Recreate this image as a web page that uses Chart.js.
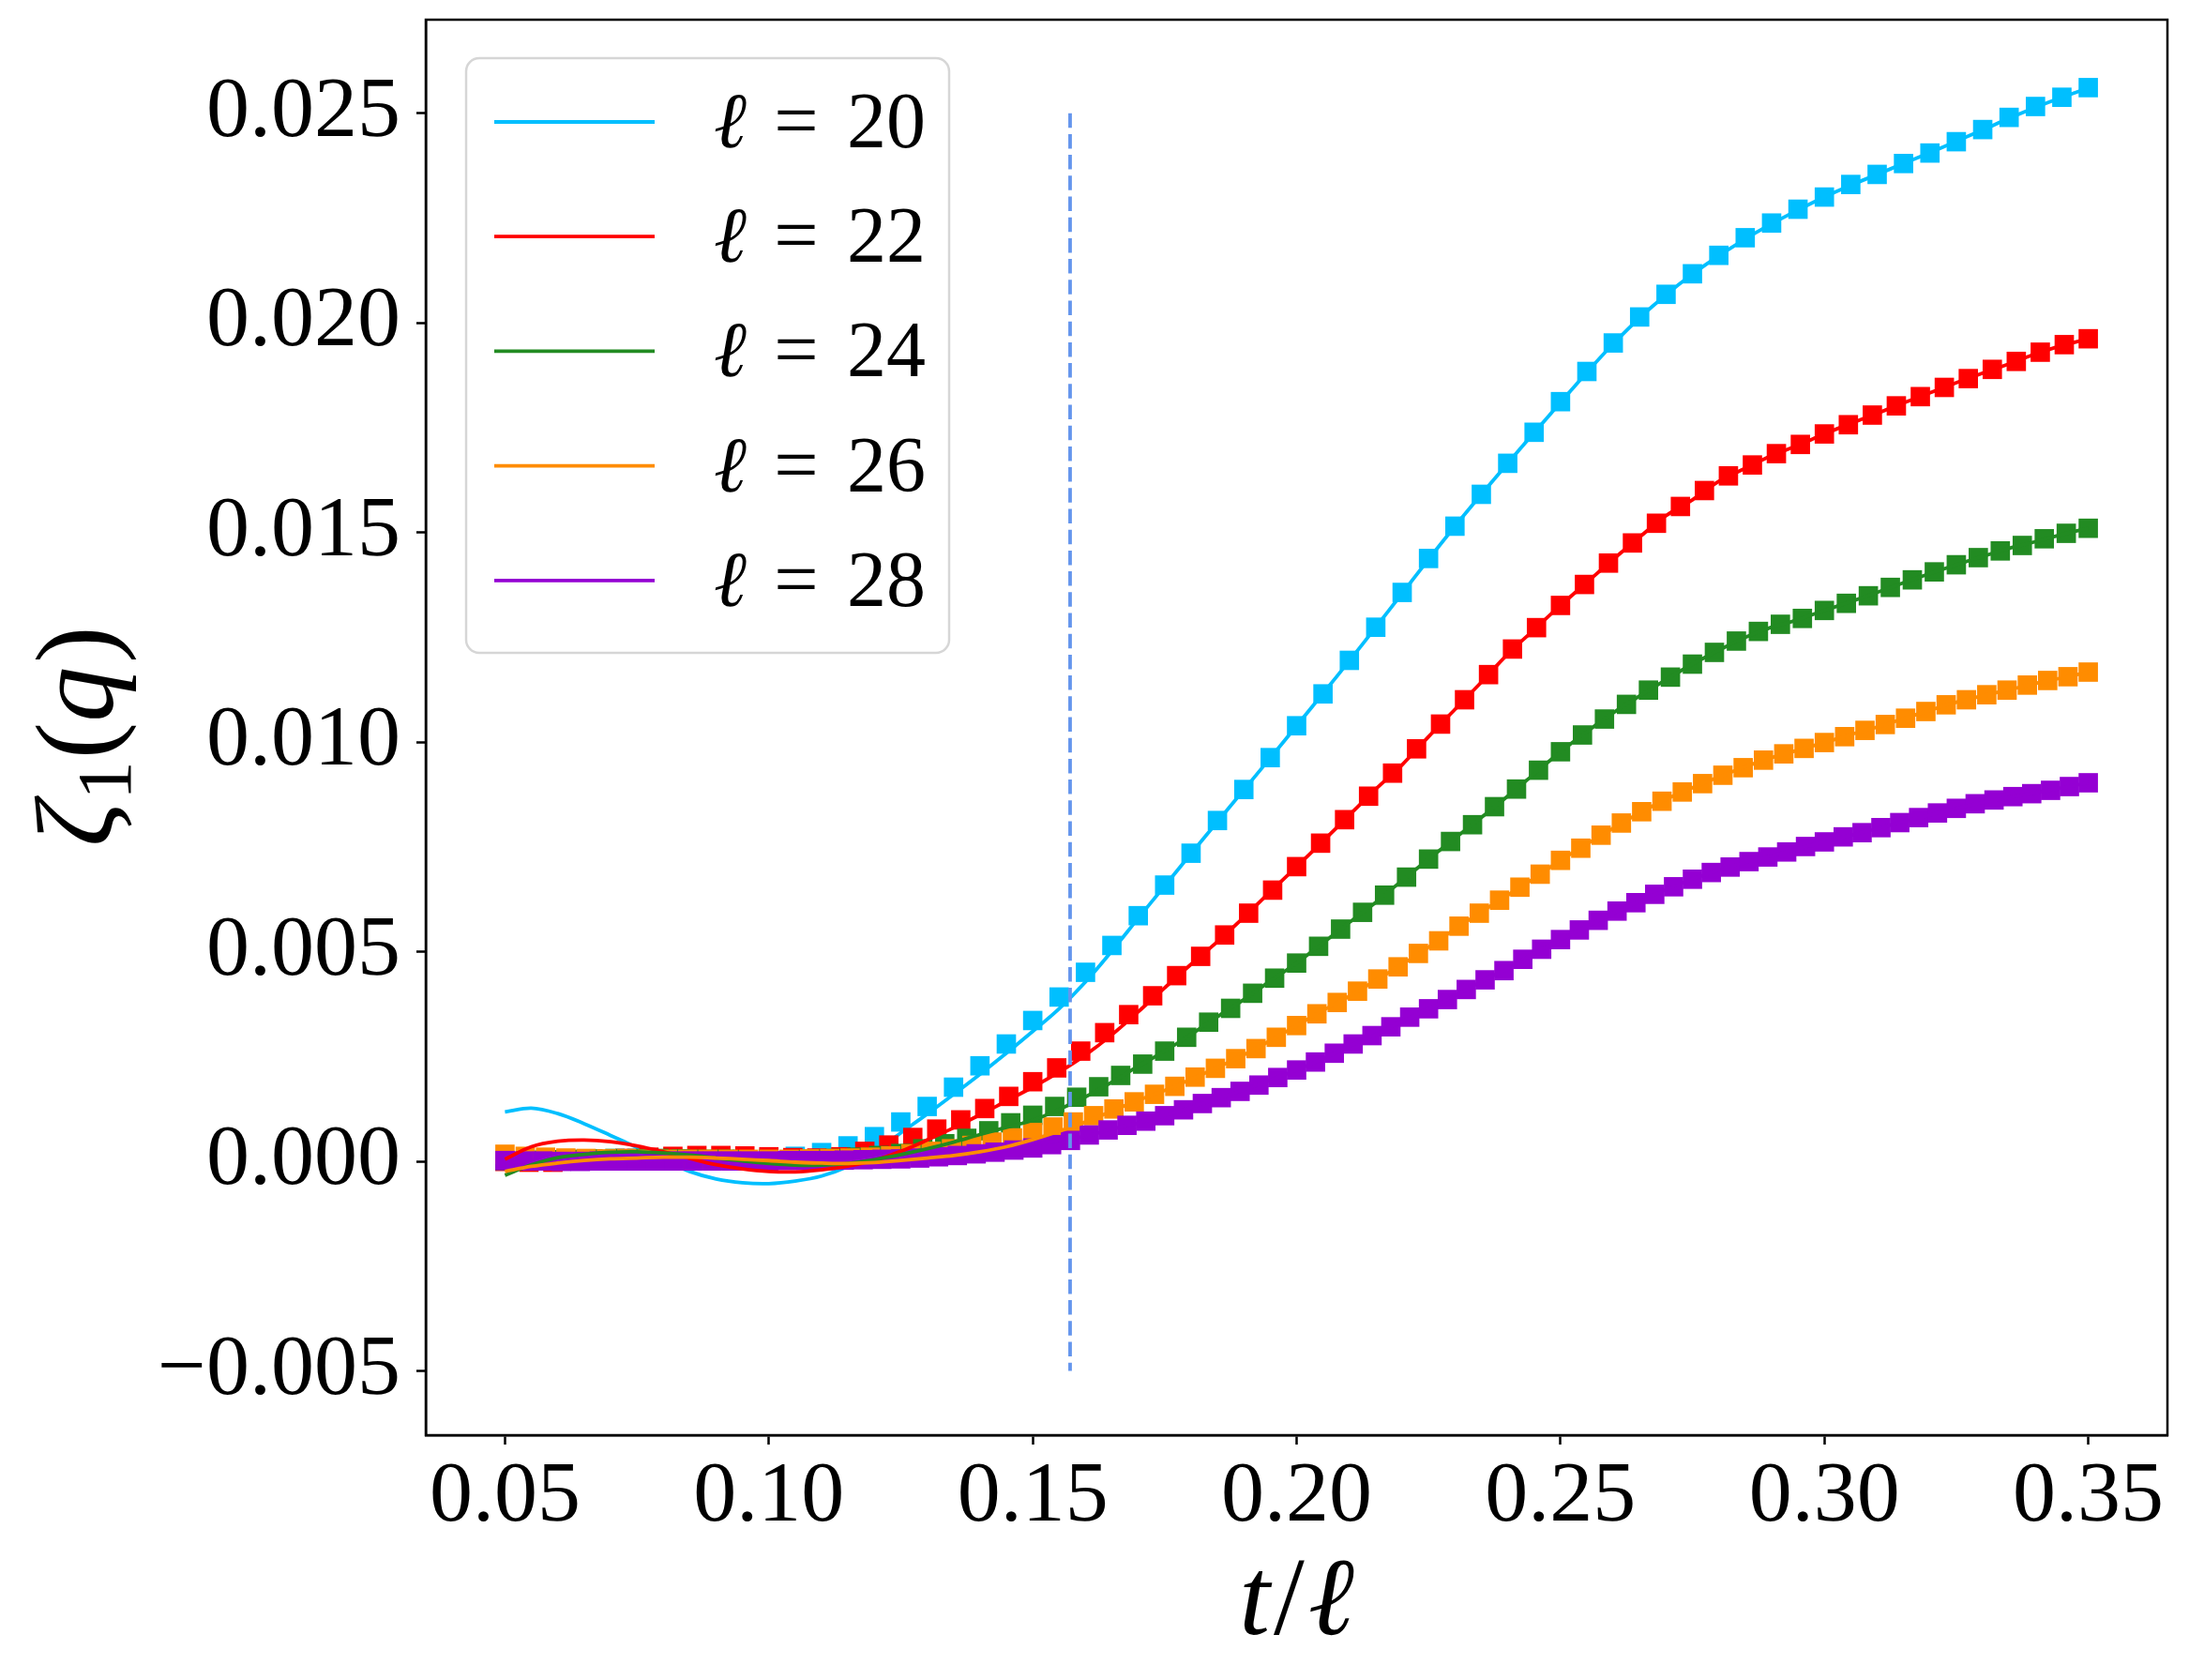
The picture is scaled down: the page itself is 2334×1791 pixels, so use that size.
<!DOCTYPE html>
<html>
<head>
<meta charset="utf-8">
<script src="https://cdn.jsdelivr.net/npm/chart.js@4.4.1/dist/chart.umd.min.js"></script>
<style>
html,body{margin:0;padding:0;background:#fff;}
canvas{display:block;}
</style>
</head>
<body>
<canvas id="c" width="2334" height="1791"></canvas>
<script>
// ---------------- data ----------------
const ells = [20, 22, 24, 26, 28];
const seriesLabels = ['\u2113 = 20', '\u2113 = 22', '\u2113 = 24', '\u2113 = 26', '\u2113 = 28'];
const xTicks = [0.05, 0.10, 0.15, 0.20, 0.25, 0.30, 0.35];
const yTicks = [-0.005, 0.000, 0.005, 0.010, 0.015, 0.020, 0.025];
const vLineX = 0.15708;          // dashed marker position (t/l)
const vLineY = [0.025, -0.005];

// markers: samples at t = 0.05*l, 0.05*l+0.1, ... ; plotted at t/l
const zeta20 = [0.00002,0.00001,0.00002,0.00002,0.00003,0.00003,0.00003,0.00004,0.00004,0.00005,
 0.00007,0.00012,0.00021,0.00037,0.00059,0.00094,0.00131,0.00177,0.00228,0.00280,
 0.00336,0.00392,0.00451,0.00515,0.00586,0.00659,0.00735,0.00813,0.00887,0.00963,
 0.01039,0.01115,0.01195,0.01274,0.01357,0.01438,0.01515,0.01591,0.01665,0.01739,
 0.01812,0.01884,0.01952,0.02014,0.02068,0.02117,0.02161,0.02203,0.02238,0.02271,
 0.02300,0.02330,0.02354,0.02380,0.02405,0.02432,0.02461,0.02490,0.02516,0.02538,
 0.02561];
const zeta22 = [0.00000,-0.00002,-0.00002,0.00001,0.00004,0.00007,0.00010,0.00012,0.00014,0.00014,
 0.00013,0.00011,0.00009,0.00008,0.00011,0.00024,0.00039,0.00057,0.00077,0.00099,
 0.00126,0.00155,0.00190,0.00223,0.00263,0.00307,0.00350,0.00395,0.00443,0.00489,
 0.00540,0.00592,0.00647,0.00703,0.00759,0.00815,0.00871,0.00926,0.00984,0.01043,
 0.01101,0.01161,0.01222,0.01273,0.01326,0.01376,0.01427,0.01475,0.01522,0.01562,
 0.01600,0.01635,0.01661,0.01688,0.01710,0.01735,0.01757,0.01780,0.01802,0.01824,
 0.01846,0.01867,0.01889,0.01908,0.01930,0.01948,0.01962];
const zeta24 = [0.00002,0.00003,0.00004,0.00005,0.00006,0.00007,0.00007,0.00007,0.00006,0.00005,
 0.00005,0.00004,0.00004,0.00004,0.00005,0.00007,0.00010,0.00014,0.00019,0.00030,
 0.00042,0.00055,0.00073,0.00092,0.00110,0.00131,0.00153,0.00178,0.00205,0.00232,
 0.00263,0.00296,0.00332,0.00365,0.00401,0.00437,0.00473,0.00513,0.00554,0.00594,
 0.00635,0.00678,0.00721,0.00763,0.00803,0.00846,0.00888,0.00933,0.00977,0.01017,
 0.01055,0.01090,0.01124,0.01155,0.01186,0.01214,0.01241,0.01264,0.01281,0.01295,
 0.01314,0.01331,0.01349,0.01369,0.01387,0.01406,0.01423,0.01440,0.01456,0.01469,
 0.01485,0.01498,0.01510];
const zeta26 = [0.00017,0.00012,0.00010,0.00008,0.00007,0.00006,0.00006,0.00005,0.00005,0.00005,
 0.00005,0.00005,0.00005,0.00005,0.00005,0.00006,0.00007,0.00008,0.00010,0.00013,
 0.00018,0.00024,0.00030,0.00038,0.00046,0.00056,0.00069,0.00082,0.00094,0.00109,
 0.00125,0.00142,0.00160,0.00179,0.00201,0.00222,0.00245,0.00269,0.00296,0.00324,
 0.00352,0.00379,0.00406,0.00435,0.00464,0.00496,0.00526,0.00561,0.00592,0.00623,
 0.00654,0.00685,0.00718,0.00747,0.00778,0.00807,0.00834,0.00859,0.00881,0.00901,
 0.00921,0.00939,0.00957,0.00972,0.00985,0.00999,0.01013,0.01028,0.01042,0.01057,
 0.01073,0.01089,0.01101,0.01113,0.01124,0.01136,0.01147,0.01156,0.01167];
const zeta28 = [0.00002,0.00001,0.00001,0.00000,0.00000,0.00001,0.00001,0.00001,0.00001,0.00001,
 0.00001,0.00001,0.00001,0.00001,0.00001,0.00002,0.00002,0.00002,0.00003,0.00004,
 0.00005,0.00006,0.00008,0.00011,0.00014,0.00018,0.00022,0.00027,0.00032,0.00040,
 0.00050,0.00063,0.00075,0.00086,0.00096,0.00109,0.00123,0.00138,0.00152,0.00167,
 0.00182,0.00200,0.00218,0.00237,0.00258,0.00280,0.00300,0.00321,0.00344,0.00364,
 0.00386,0.00410,0.00433,0.00455,0.00482,0.00506,0.00529,0.00552,0.00575,0.00597,
 0.00617,0.00637,0.00655,0.00673,0.00689,0.00702,0.00715,0.00726,0.00738,0.00751,
 0.00762,0.00774,0.00784,0.00796,0.00808,0.00820,0.00831,0.00842,0.00853,0.00862,
 0.00870,0.00877,0.00885,0.00894,0.00903];

// fit curves sampled at t/l = 0.050, 0.055, ..., 0.350
const fit20 = [0.00118,0.00127,0.00114,0.00090,0.00062,0.00033,0.00003,-0.00024,-0.00042,-0.00051,
 -0.00053,-0.00047,-0.00035,-0.00012,0.00022,0.00068,0.00113,0.00160,0.00208,0.00258,
 0.00310,0.00364,0.00428,0.00502,0.00580,0.00657,0.00734,0.00810,0.00886,0.00962,
 0.01039,0.01116,0.01194,0.01274,0.01355,0.01436,0.01515,0.01591,0.01665,0.01738,
 0.01810,0.01882,0.01950,0.02012,0.02067,0.02116,0.02160,0.02200,0.02236,0.02269,
 0.02300,0.02328,0.02354,0.02380,0.02406,0.02433,0.02460,0.02488,0.02514,0.02538,
 0.02560];
const fit22 = [0.00005,0.00035,0.00048,0.00051,0.00047,0.00037,0.00023,0.00007,-0.00008,-0.00018,
 -0.00024,-0.00025,-0.00020,-0.00011,0.00002,0.00024,0.00051,0.00080,0.00111,0.00144,
 0.00177,0.00213,0.00254,0.00302,0.00357,0.00414,0.00470,0.00524,0.00582,0.00643,
 0.00703,0.00764,0.00826,0.00888,0.00946,0.01013,0.01078,0.01143,0.01210,0.01268,
 0.01326,0.01381,0.01436,0.01489,0.01540,0.01578,0.01622,0.01653,0.01683,0.01708,
 0.01735,0.01760,0.01784,0.01809,0.01833,0.01857,0.01880,0.01902,0.01926,0.01946,
 0.01962];
const fit24 = [-0.00033,-0.00008,0.00009,0.00017,0.00022,0.00023,0.00020,0.00015,0.00008,0.00001,
 -0.00005,-0.00009,-0.00009,-0.00005,0.00004,0.00016,0.00030,0.00046,0.00064,0.00081,
 0.00098,0.00124,0.00154,0.00189,0.00227,0.00263,0.00303,0.00345,0.00386,0.00430,
 0.00473,0.00521,0.00570,0.00618,0.00670,0.00721,0.00771,0.00820,0.00871,0.00924,
 0.00977,0.01025,0.01070,0.01110,0.01149,0.01186,0.01219,0.01250,0.01274,0.01292,
 0.01314,0.01335,0.01357,0.01380,0.01402,0.01423,0.01443,0.01462,0.01478,0.01495,
 0.01510];
const fit26 = [-0.00024,-0.00012,-0.00004,0.00002,0.00006,0.00008,0.00010,0.00010,0.00008,0.00005,
 0.00002,-0.00002,-0.00004,-0.00005,-0.00003,0.00002,0.00008,0.00014,0.00023,0.00035,
 0.00052,0.00072,0.00094,0.00120,0.00146,0.00169,0.00196,0.00224,0.00254,0.00288,
 0.00324,0.00360,0.00394,0.00432,0.00470,0.00511,0.00554,0.00595,0.00635,0.00675,
 0.00718,0.00757,0.00795,0.00831,0.00864,0.00891,0.00917,0.00941,0.00963,0.00981,
 0.00999,0.01018,0.01036,0.01056,0.01076,0.01095,0.01111,0.01125,0.01140,0.01153,
 0.01167];
const fit28 = [-0.00004,0.00001,0.00004,0.00006,0.00007,0.00007,0.00006,0.00004,0.00002,0.00000,
 -0.00001,-0.00002,-0.00002,0.00000,0.00003,0.00007,0.00012,0.00018,0.00025,0.00033,
 0.00040,0.00050,0.00060,0.00077,0.00092,0.00109,0.00129,0.00150,0.00171,0.00194,
 0.00218,0.00245,0.00275,0.00303,0.00334,0.00364,0.00395,0.00429,0.00461,0.00496,
 0.00529,0.00561,0.00592,0.00621,0.00648,0.00673,0.00695,0.00713,0.00729,0.00746,
 0.00762,0.00778,0.00794,0.00810,0.00826,0.00842,0.00856,0.00868,0.00879,0.00891,
 0.00903];

const markerSets = [zeta20, zeta22, zeta24, zeta26, zeta28];
const fitSets = [fit20, fit22, fit24, fit26, fit28];

// ---------------- styles ----------------
const COLORS = ['#00BFFF', '#FF0000', '#228B22', '#FF8C00', '#9400D3'];
const DASH_COLOR = '#6495ED';
const SERIF = '"Liberation Serif", "DejaVu Serif", serif';
// draw order (lower = on top)
const markerOrder = [10, 8, 7, 6, 5];
const fitOrder = [9, 3, 2, 1, 4];

function markerPoints(k) {
  const l = ells[k];
  return markerSets[k].map((v, i) => ({ x: (0.05 * l + 0.1 * i) / l, y: v }));
}
function fitPoints(k) {
  return fitSets[k].map((v, i) => ({ x: 0.05 + 0.005 * i, y: v }));
}

const datasets = [];
for (let k = 0; k < ells.length; k++) {
  datasets.push({
    label: seriesLabels[k] + ' data',
    data: markerPoints(k),
    showLine: false,
    pointStyle: 'rect',
    pointRadius: 14.6,
    pointHoverRadius: 14.6,
    pointBorderWidth: 0,
    pointBackgroundColor: COLORS[k],
    borderColor: COLORS[k],
    backgroundColor: COLORS[k],
    order: markerOrder[k]
  });
  datasets.push({
    label: seriesLabels[k],
    isFit: true,
    data: fitPoints(k),
    borderColor: COLORS[k],
    backgroundColor: COLORS[k],
    borderWidth: 3.8,
    pointRadius: 0,
    pointHoverRadius: 0,
    tension: 0.35,
    fill: false,
    order: fitOrder[k]
  });
}
datasets.push({
  label: 'marker line',
  data: vLineY.map(v => ({ x: vLineX, y: v })),
  borderColor: DASH_COLOR,
  borderWidth: 3.8,
  borderDash: [15.5, 6.7],
  pointRadius: 0,
  pointHoverRadius: 0,
  fill: false,
  order: 0
});

// ---------------- decoration plugin ----------------
function drawPieces(ctx, pieces, startX, baseY) {
  let x = startX;
  for (const p of pieces) {
    ctx.font = p.font;
    ctx.fillText(p.t, x, baseY + (p.dy || 0));
    x += ctx.measureText(p.t).width + (p.gap || 0);
  }
}
function piecesWidth(ctx, pieces) {
  let w = 0;
  for (const p of pieces) { ctx.font = p.font; w += ctx.measureText(p.t).width + (p.gap || 0); }
  return w;
}

const decor = {
  id: 'decor',
  afterDatasetsDraw(chart) {
    const ctx = chart.ctx, a = chart.chartArea;
    ctx.save();
    ctx.strokeStyle = '#000';
    ctx.lineWidth = 2.5;
    ctx.strokeRect(a.left, a.top, a.right - a.left, a.bottom - a.top);
    ctx.restore();
  },
  afterDraw(chart) {
    const ctx = chart.ctx, a = chart.chartArea;
    ctx.save();
    // legend
    const bx = a.left + 43, by = a.top + 41, bw = 515, bh = 634, r = 14;
    ctx.beginPath();
    ctx.moveTo(bx + r, by);
    ctx.lineTo(bx + bw - r, by); ctx.arcTo(bx + bw, by, bx + bw, by + r, r);
    ctx.lineTo(bx + bw, by + bh - r); ctx.arcTo(bx + bw, by + bh, bx + bw - r, by + bh, r);
    ctx.lineTo(bx + r, by + bh); ctx.arcTo(bx, by + bh, bx, by + bh - r, r);
    ctx.lineTo(bx, by + r); ctx.arcTo(bx, by, bx + r, by, r);
    ctx.closePath();
    ctx.fillStyle = 'rgba(255,255,255,0.8)';
    ctx.fill();
    ctx.strokeStyle = 'rgba(204,204,204,0.8)';
    ctx.lineWidth = 2.5;
    ctx.stroke();
    const fits = chart.data.datasets.filter(d => d.isFit);
    fits.forEach((d, i) => {
      const ly = by + 68 + i * 122.2;
      ctx.strokeStyle = d.borderColor;
      ctx.lineWidth = 3.8;
      ctx.beginPath();
      ctx.moveTo(bx + 30, ly);
      ctx.lineTo(bx + 201, ly);
      ctx.stroke();
      const parts = d.label.split(' = ');
      ctx.fillStyle = '#000';
      ctx.textBaseline = 'alphabetic';
      ctx.textAlign = 'left';
      ctx.font = 'italic 84px ' + SERIF;
      ctx.fillText(parts[0], bx + 264, ly + 27);
      ctx.font = '84px ' + SERIF;
      ctx.textAlign = 'center';
      ctx.fillText('=', bx + 352, ly + 27);
      ctx.textAlign = 'left';
      ctx.fillText(parts[1], bx + 406, ly + 27);
    });
    // x title  t/l
    ctx.fillStyle = '#000';
    ctx.textAlign = 'left';
    ctx.textBaseline = 'alphabetic';
    const F = 118;
    const xp = [
      { t: 't', font: 'italic ' + F + 'px ' + SERIF, gap: 4 },
      { t: '/', font: F + 'px ' + SERIF, gap: 4 },
      { t: '\u2113', font: 'italic ' + F + 'px ' + SERIF }
    ];
    const xw = piecesWidth(ctx, xp);
    drawPieces(ctx, xp, (a.left + a.right) / 2 - xw / 2, 1742);
    // y title  zeta_1(q)
    const yp = [
      { t: '\u03B6', font: 'italic ' + F + 'px ' + SERIF, gap: 2 },
      { t: '1', font: Math.round(F * 0.7) + 'px ' + SERIF, dy: F * 0.16, gap: 2 },
      { t: '(', font: F + 'px ' + SERIF },
      { t: 'q', font: 'italic ' + F + 'px ' + SERIF, gap: 4 },
      { t: ')', font: F + 'px ' + SERIF }
    ];
    const yw = piecesWidth(ctx, yp);
    ctx.translate(120, 785);
    ctx.rotate(-Math.PI / 2);
    drawPieces(ctx, yp, -yw / 2, 0);
    ctx.restore();
  }
};

// ---------------- chart ----------------
new Chart(document.getElementById('c'), {
  type: 'line',
  data: { datasets },
  options: {
    responsive: false,
    devicePixelRatio: 1,
    animation: false,
    events: [],
    layout: { padding: { left: 0, top: 21, right: 23, bottom: 0 } },
    plugins: { legend: { display: false }, tooltip: { enabled: false } },
    scales: {
      x: {
        type: 'linear',
        min: 0.035, max: 0.365,
        afterBuildTicks: s => { s.ticks = xTicks.map(v => ({ value: v })); },
        afterFit: s => { s.height = 261; s.paddingLeft = 0; s.paddingRight = 0; },
        ticks: {
          callback: v => Number(v).toFixed(2),
          font: { family: SERIF, size: 92 },
          color: '#000', padding: 2, maxRotation: 0, autoSkip: false
        },
        grid: { drawOnChartArea: false, drawTicks: true, tickLength: 10, tickWidth: 2.5, tickColor: '#000' },
        border: { display: true, color: '#000', width: 2.5 }
      },
      y: {
        type: 'linear',
        min: -0.00653, max: 0.02723,
        afterBuildTicks: s => { s.ticks = yTicks.map(v => ({ value: v })); },
        afterFit: s => { s.width = 454; s.paddingTop = 0; s.paddingBottom = 0; },
        ticks: {
          callback: v => (v < -1e-9 ? '\u2212' : '') + Math.abs(v).toFixed(3),
          font: { family: SERIF, size: 92 },
          color: '#000', padding: 17, autoSkip: false
        },
        grid: { drawOnChartArea: false, drawTicks: true, tickLength: 10, tickWidth: 2.5, tickColor: '#000' },
        border: { display: true, color: '#000', width: 2.5 }
      }
    }
  },
  plugins: [decor]
});
</script>
</body>
</html>
